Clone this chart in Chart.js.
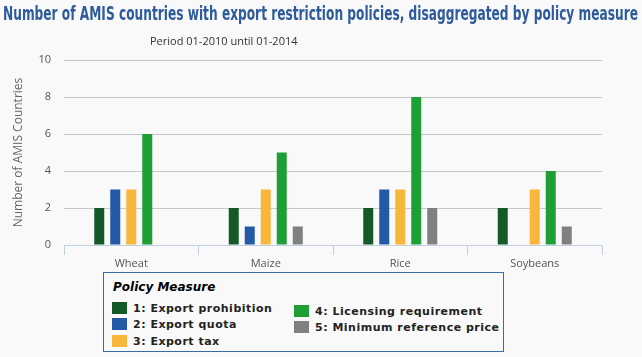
<!DOCTYPE html>
<html><head><meta charset="utf-8">
<script src="https://cdn.jsdelivr.net/npm/chart.js@4/dist/chart.umd.min.js"></script>
<style>
html,body{margin:0;padding:0;background:#f9f9f9;}
#wrap{position:relative;width:642px;height:357px;overflow:hidden;}
#c{position:absolute;left:0;top:0;}
#title{position:absolute;left:3px;top:2px;transform-origin:0 0;font-family:"DejaVu Sans Condensed","Liberation Sans",sans-serif;font-weight:bold;font-size:19px;color:#2d5b9b;white-space:nowrap;display:inline-block;}
#sub{position:absolute;left:150px;top:33px;font-family:"Open Sans",sans-serif;font-size:11px;color:#333;white-space:nowrap;}
#legend{position:absolute;left:103px;top:272px;width:399px;height:78px;border:1.5px solid #3a6aa8;background:#f9f9f9;font-family:"DejaVu Sans",sans-serif;font-weight:bold;font-size:11px;color:#222;}
#legend .h{position:absolute;left:9px;top:7px;font-style:italic;font-size:12px;color:#000;}
#legend .it{position:absolute;white-space:nowrap;letter-spacing:0.5px;}
#legend .sw{display:inline-block;width:15px;height:12px;vertical-align:-2px;margin-right:6px;}
</style></head>
<body><div id="wrap">
<canvas id="c" width="642" height="357"></canvas>
<div id="title">Number of AMIS countries with export restriction policies, disaggregated by policy measure</div>
<div id="sub">Period 01-2010 until 01-2014</div>
<div id="legend"><div class="h">Policy Measure</div></div>
</div>
<script>
const categories = ["Wheat", "Maize", "Rice", "Soybeans"];
const seriesNames = ["1: Export prohibition", "2: Export quota", "3: Export tax", "4: Licensing requirement", "5: Minimum reference price"];
const prohibition = [2, 2, 2, 2];
const quota = [3, 1, 3, null];
const tax = [3, 3, 3, 3];
const licensing = [6, 5, 8, 4];
const minPrice = [null, 1, 2, 1];
const yTicks = [0, 2, 4, 6, 8, 10];
const colors = ["#145a28", "#2359a6", "#f8b73a", "#1e9f35", "#808080"];
const seriesValues = [prohibition, quota, tax, licensing, minPrice];

// fit title width
const t = document.getElementById('title');
const w = t.getBoundingClientRect().width;
t.style.transform = 'scaleX(' + (635 / w) + ')';

// HTML legend
const legendEl = document.getElementById('legend');
const legendPos = [[8,29],[8,45],[8,62],[190,32],[190,48]];
seriesNames.forEach((n,i)=>{
  const d=document.createElement('div');d.className='it';
  d.style.left=legendPos[i][0]+'px';d.style.top=legendPos[i][1]+'px';
  d.innerHTML='<span class="sw" style="background:'+colors[i]+'"></span>'+n;
  legendEl.appendChild(d);
});

new Chart(document.getElementById('c'), {
  type: 'bar',
  data: {
    labels: categories,
    datasets: seriesNames.map((n,i)=>({label:n,data:seriesValues[i],backgroundColor:colors[i],categoryPercentage:0.595,barPercentage:0.625}))
  },
  options: {
    responsive:false, animation:false,
    layout:{padding:{left:11,right:40,top:60,bottom:87}},
    plugins:{legend:{display:false},tooltip:{enabled:false}},
    scales:{
      x:{
        grid:{display:true,drawOnChartArea:false,offset:true,color:'#c0d0e0',tickLength:10},
        border:{color:'#c0d0e0'},
        ticks:{color:'#555',font:{family:'"Open Sans"',size:11},padding:2},
        afterFit:(s)=>{s.height=25;}
      },
      y:{
        min:0,max:10,
        afterBuildTicks:(s)=>{s.ticks=yTicks.map(v=>({value:v}));},
        grid:{color:'#c8c8c8',drawTicks:false},
        border:{display:false},
        ticks:{color:'#555',font:{family:'"Open Sans"',size:11},padding:13},
        title:{display:true,text:'Number of AMIS Countries',color:'#666',font:{family:'"Open Sans"',size:12},padding:{top:0,bottom:0}},
        afterFit:(s)=>{s.width=53;}
      }
    }
  }
});
</script>
</body></html>
